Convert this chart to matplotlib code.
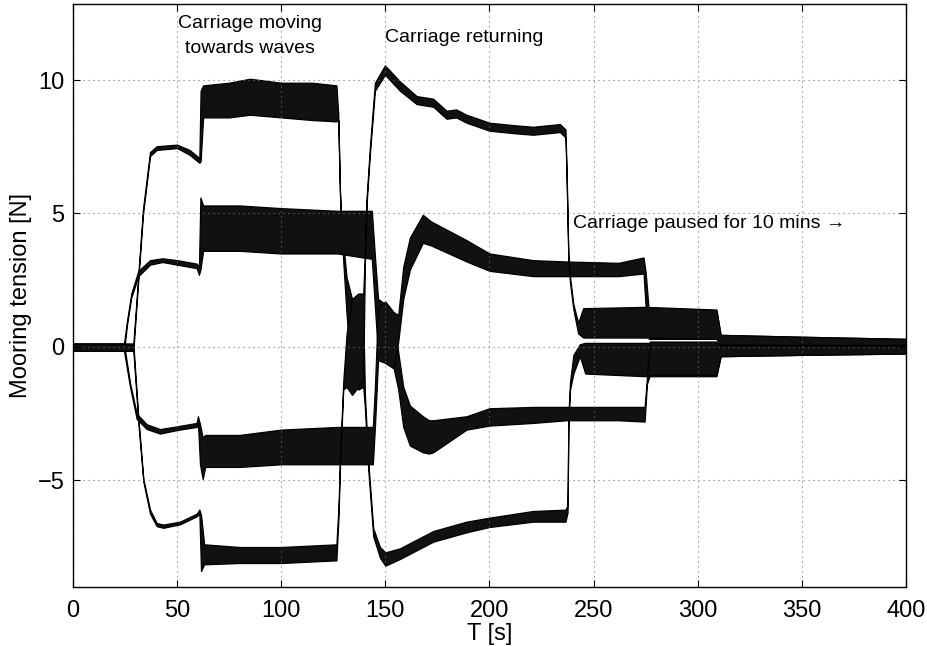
import numpy as np
import matplotlib
matplotlib.use('Agg')
import matplotlib.pyplot as plt

plt.rcParams['font.family'] = ['Liberation Sans', 'DejaVu Sans']

# mooring line tensions (lower / upper edge of the oscillation)
t_a = [0, 29, 30.6, 33.6, 37, 40.2, 50, 56, 60.7, 61.3, 62.5, 75, 85, 100, 115, 126.5, 127.4, 128.2, 129,
       131.4, 134, 137, 139.4, 140.2, 141.8, 144.2, 147.4, 150, 157, 173, 189, 200, 221, 236.5, 237.5,
       237.9, 238.7, 240.3, 243.4, 246, 275, 309, 311, 350, 400]
lo_a = [-0.15, -0.15, 1.65, 4.95, 7.15, 7.38, 7.45, 7.2, 6.9, 6.95, 8.6, 8.6, 8.7, 8.6, 8.5, 8.45, 8.5, 5.7, 4.2,
        1.2, -1.2, -1.6, -1.5, -2.3, -4.6, -7.1, -7.9, -8.2, -7.95, -7.3, -6.95, -6.75, -6.55, -6.55, -6.2,
        -2.9, -1.6, -1.0, -0.35, -1.0, -1.1, -1.1, -0.35, -0.3, -0.25]
hi_a = [0.12, 0.12, 1.85, 5.15, 7.3, 7.52, 7.58, 7.38, 7.08, 9.6, 9.8, 9.9, 10.05, 9.9, 9.9, 9.8, 8.7, 5.9, 4.5,
        2.6, 1.8, 1.4, 1.2, -1.8, -4.3, -6.8, -7.5, -7.7, -7.55, -6.9, -6.55, -6.4, -6.15, -6.1, -5.95,
        -2.6, -1.3, -0.3, 0.1, 0.15, 0.15, 0.15, 0.05, 0.03, 0.03]

t_b = [0, 24.5, 26, 28, 31.4, 37, 43, 50, 59.4, 60.5, 61.2, 62.5, 80, 100, 127, 143.5, 145, 146.5, 150, 154,
       156.2, 158.6, 161.8, 168, 171, 173, 189, 200, 221, 237, 262, 274.5, 275.6, 277, 309, 311, 350, 400]
lo_b = [-0.15, -0.15, 0.85, 1.85, 2.65, 3.08, 3.18, 3.08, 2.95, 2.7, 2.9, 3.6, 3.6, 3.5, 3.5, 3.3, 1.5, -0.3, -0.6, -0.8,
        -1.6, -3.0, -3.7, -3.95, -4.0, -3.95, -3.1, -2.95, -2.85, -2.75, -2.75, -2.8, -1.4, -1.05, -1.05, -0.35, -0.3, -0.25]
hi_b = [0.12, 0.12, 1.0, 2.0, 2.85, 3.25, 3.32, 3.25, 3.12, 3.0, 5.6, 5.3, 5.3, 5.2, 5.1, 5.1, 3.4, 1.8, 1.6, 1.2,
        -0.2, -1.5, -2.2, -2.6, -2.75, -2.75, -2.6, -2.3, -2.25, -2.25, -2.25, -2.25, -1.2, 0.2, 0.2, 0.05, 0.03, 0.03]

t_c = [0, 24.5, 27.4, 30.6, 35.4, 41.8, 49.8, 59.4, 60.0, 61.0, 62.3, 63.5, 80, 100, 127, 144, 145, 146.5, 150, 154,
       156.2, 158.6, 161.8, 168, 172, 189, 200, 221, 237, 262, 274, 275, 276.5, 309, 311, 350, 400]
lo_c = [-0.15, -0.15, -1.5, -2.7, -3.08, -3.25, -3.12, -3.0, -2.8, -4.4, -4.95, -4.5, -4.5, -4.4, -4.4, -4.4, -3.0, -0.5,
        -0.6, -0.8, 0.2, 1.8, 2.9, 3.9, 3.8, 3.2, 2.85, 2.65, 2.65, 2.65, 2.75, 1.5, 0.3, 0.3, 0.08, 0.08, 0.08]
hi_c = [0.12, 0.12, -1.35, -2.5, -2.9, -3.08, -2.98, -2.85, -2.6, -2.9, -3.4, -3.3, -3.3, -3.1, -3.0, -3.0, -1.5, 1.5,
        1.7, 1.3, 1.2, 3.0, 4.1, 4.95, 4.7, 4.0, 3.5, 3.25, 3.2, 3.15, 3.35, 2.8, 1.35, 1.35, 0.45, 0.38, 0.3]

t_d = [0, 29, 31.4, 33.8, 37, 40.2, 43.4, 51.4, 59.4, 60.7, 61.5, 63, 80, 100, 126.5, 127.5, 128.2, 129.8, 131.4,
       134, 137, 139.4, 140.2, 141, 142.6, 145, 149.8, 157, 165, 173, 179.4, 184, 189, 200, 213, 221, 233.8,
       236.5, 237.1, 237.9, 238.7, 240.3, 242.6, 245, 275, 309, 311, 350, 400]
lo_d = [-0.15, -0.15, -2.85, -5.05, -6.25, -6.72, -6.78, -6.65, -6.35, -6.25, -8.4, -8.15, -8.1, -8.1, -8.0, -6.4,
        -4.5, -1.6, -1.5, -1.8, -1.5, -1.2, 3.25, 5.35, 7.25, 9.6, 10.2, 9.6, 9.1, 9.0, 8.55, 8.6, 8.4, 8.1,
        8.0, 7.95, 8.05, 7.85, 6.1, 3.2, 2.4, 1.4, 0.5, 0.35, 0.35, 0.3, 0.1, 0.08, 0.08]
hi_d = [0.12, 0.12, -2.65, -4.95, -6.1, -6.6, -6.66, -6.55, -6.25, -6.1, -6.3, -7.4, -7.5, -7.5, -7.4, -6.0,
        -4.2, -1.3, 0.5, 1.8, 2.0, 2.0, 3.5, 5.6, 7.5, 9.9, 10.55, 9.95, 9.4, 9.3, 8.85, 8.9, 8.7, 8.4,
        8.3, 8.25, 8.35, 8.15, 6.4, 3.4, 2.6, 1.6, 0.9, 1.45, 1.5, 1.4, 0.45, 0.38, 0.3]

traces = [(t_a, lo_a, hi_a), (t_b, lo_b, hi_b), (t_c, lo_c, hi_c), (t_d, lo_d, hi_d)]

fig = plt.figure(figsize=(9.27, 6.46), dpi=100)
ax = fig.add_axes([0.0787, 0.0913, 0.8986, 0.9025])

for t, lo, hi in traces:
    ax.fill_between(t, lo, hi, facecolor='#111111', edgecolor='black', linewidth=0.9)

ax.set_xlim(0, 400)
ax.set_ylim(-9, 12.85)
ax.set_xticks(np.arange(0, 401, 50))
ax.set_yticks([-5, 0, 5, 10])
ax.grid(True, color='0.45', linestyle=(0, (1, 3.5)), linewidth=0.8)
ax.tick_params(direction='in', length=5, width=0.8, top=True, right=True, labelsize=17)
ax.tick_params(axis='x', pad=9)
ax.tick_params(axis='y', pad=6)
for s in ax.spines.values():
    s.set_linewidth(1.0)

ax.set_xlabel('T [s]', fontsize=17, labelpad=1)
ax.set_ylabel('Mooring tension [N]', fontsize=17, labelpad=4)

ax.text(85, 11.95, 'Carriage moving', fontsize=14, ha='center', va='baseline')
ax.text(85, 11.01, 'towards waves', fontsize=14, ha='center', va='baseline')
ax.text(149.8, 11.41, 'Carriage returning', fontsize=14, ha='left', va='baseline')
ax.text(240.1, 4.47, 'Carriage paused for 10 mins \u2192', fontsize=14, ha='left', va='baseline')

fig.savefig('out.png', dpi=100)
